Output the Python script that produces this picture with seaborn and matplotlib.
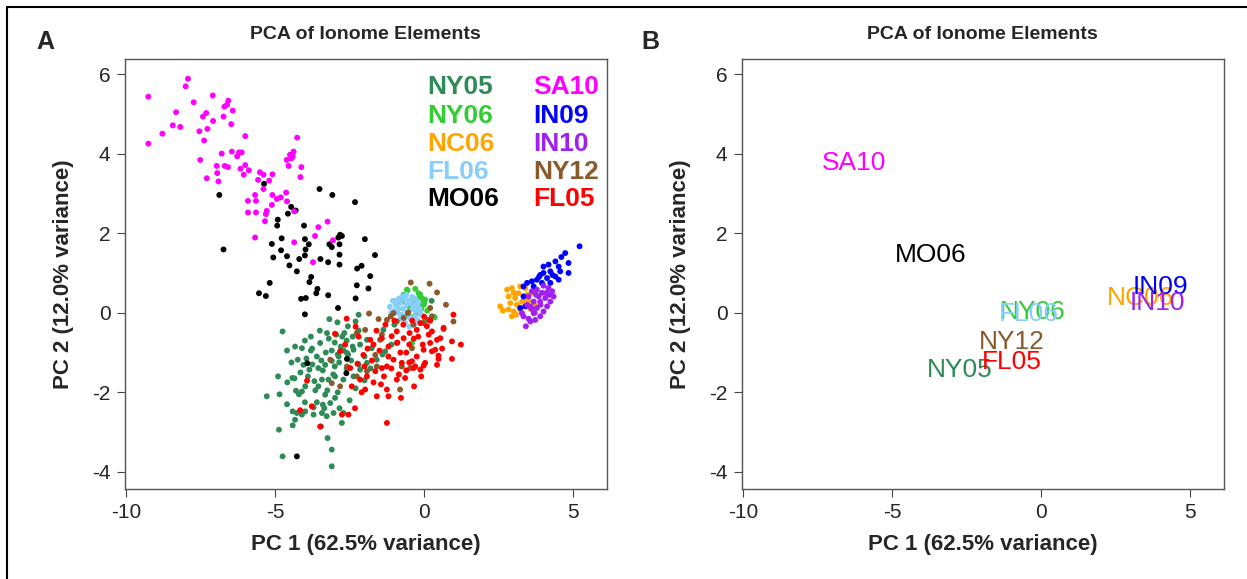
import numpy as np
import pandas as pd
import matplotlib
matplotlib.use("Agg")
import matplotlib.pyplot as plt
import seaborn as sns

# ---------------- data ----------------
groups = ["NY05", "NY06", "NC06", "FL06", "MO06", "SA10", "IN09", "IN10", "NY12", "FL05"]
colors = ["#2E8B57", "#32CD32", "#FFA500", "#87CEFA", "#000000",
          "#FF00FF", "#0000FF", "#A020F0", "#8B5A2B", "#FF0000"]

sa10_x = [-9.25, -9.25, -8.78, -8.43, -8.32, -8.18, -8.0, -7.92, -7.73, -7.54, -7.51, -7.42, -7.38, -7.31,
          -7.27, -7.29, -7.09, -7.08, -6.96, -6.94, -6.90, -6.79, -6.73, -6.70, -6.61, -6.57, -6.69, -6.58,
          -6.47, -6.42, -6.45, -6.27, -6.21, -6.12, -6.16, -6.0, -6.0, -6.05, -5.88, -5.51, -5.57, -5.39,
          -5.09, -5.20, -5.39, -5.67, -5.91, -5.64, -5.91, -5.64, -5.09, -5.11, -5.28, -5.31, -4.94, -4.81,
          -4.63, -4.60, -4.36, -4.26, -4.61, -4.50, -4.41, -4.55, -4.12, -4.15, -4.45, -4.38, -5.34, -5.67,
          -4.36, -3.24, -3.55, -3.66, -3.06, -3.73]
sa10_y = [5.43, 4.25, 4.50, 4.71, 5.04, 4.67, 5.69, 5.88, 5.29, 4.56, 3.84, 4.93, 4.33, 5.02,
          4.62, 3.38, 5.46, 4.82, 3.69, 3.51, 3.30, 4.0, 4.93, 5.18, 5.23, 5.33, 3.69, 3.66,
          4.74, 5.08, 4.05, 3.93, 4.03, 4.03, 3.62, 4.44, 3.71, 3.47, 3.58, 3.53, 3.34, 3.47,
          3.48, 3.32, 3.11, 2.96, 2.81, 2.81, 2.52, 2.52, 2.96, 2.71, 2.56, 2.48, 2.86, 2.90,
          3.02, 2.80, 2.55, 4.40, 3.84, 3.97, 3.93, 3.69, 3.66, 3.41, 3.88, 4.05, 2.30, 1.89,
          1.77, 2.29, 2.15, 1.93, 1.82, 1.27]

mo06_x = [-5.37, -6.87, -3.51, -3.08, -2.32, -4.46, -4.31, -4.57, -4.91, -4.93, -4.03, -6.73, -5.11, -4.78,
          -4.80, -5.06, -4.60, -4.0, -3.87, -3.98, -4.0, -4.19, -4.52, -4.27, -3.48, -3.22, -3.18, -3.10,
          -2.84, -2.82, -2.76, -2.88, -2.84, -2.84, -1.99, -1.65, -2.25, -2.10, -1.81, -2.26, -1.87, -2.30,
          -2.89, -3.79, -3.85, -3.58, -3.62, -3.22, -3.97, -4.13, -4.0, -5.18, -5.54, -5.31, -3.92, -2.59,
          -2.61, -4.27]
mo06_y = [3.24, 2.96, 3.11, 2.96, 2.78, 2.66, 2.57, 2.49, 2.34, 2.19, 2.19, 1.59, 1.73, 1.87,
          1.57, 1.39, 1.42, 1.85, 1.72, 1.59, 1.44, 1.35, 1.19, 1.04, 1.35, 1.27, 1.72, 1.65,
          1.72, 1.96, 1.93, 1.89, 1.46, 1.21, 1.85, 1.45, 1.11, 1.18, 0.92, 0.69, 0.61, 0.36,
          0.12, 0.90, 0.77, 0.60, 0.49, 0.44, 0.37, 0.35, -0.04, 0.75, 0.49, 0.42, -1.27, -1.16,
          -1.52, -3.61]

ny05_x = [-4.75, -3.18, -2.91, -2.20, -2.30, -2.56, -2.68, -2.95, -3.26, -3.49, -3.76, -4.10, -4.33, -4.24,
          -4.05, -3.85, -3.55, -3.32, -3.10, -2.87, -2.59, -2.37, -2.15, -1.92, -1.76, -1.37, -1.31, -1.59,
          -1.92, -2.15, -2.37, -2.71, -2.99, -3.21, -3.43, -3.68, -3.99, -4.30, -4.59, -4.42, -5.28, -4.10,
          -3.32, -2.99, -3.15, -3.40, -3.71, -3.99, -4.27, -4.41, -4.33, -4.41, -4.10, -3.71, -3.43, -3.27,
          -3.04, -2.84, -2.71, -2.76, -3.46, -3.24, -3.10, -3.10, -4.87, -4.75,
          -3.0, -2.8, -2.6, -2.4, -3.1, -2.9, -2.7, -2.45, -3.3, -3.6, -3.8, -4.0, -3.5, -2.2, -2.0,
          -1.8, -2.0, -3.0, -3.4, -3.9, -3.65, -4.45, -4.6, -4.9, -4.85, -4.0, -3.6, -2.5, -2.3, -1.1,
          -1.4, -1.0, 0.25,
          -3.8, -3.2, -2.75, -2.55, -3.45, -3.75, -4.15, -2.85, -3.05, -2.6, -3.55, -3.25, -4.2, -2.2,
          -2.4, -3.95, -4.35, -3.35, -2.9, -4.6]
ny05_y = [-0.47, -0.16, -0.24, -0.05, -0.22, -0.34, -0.51, -0.55, -0.51, -0.76, -0.90, -0.89, -0.85, -1.18,
          -1.31, -1.43, -1.39, -1.31, -1.21, -1.10, -1.01, -0.93, -0.80, -0.68, -0.89, -0.43, -0.97, -1.18,
          -1.26, -1.43, -1.60, -1.68, -1.60, -1.68, -1.68, -1.72, -1.85, -1.96, -1.75, -1.64, -2.10, -1.98,
          -2.06, -2.14, -2.27, -2.31, -2.38, -2.48, -2.52, -2.48, -2.69, -2.83, -2.56, -2.56, -2.52, -2.60,
          -2.52, -2.40, -2.52, -2.77, -2.86, -3.15, -3.44, -3.86, -2.94, -3.61,
          -0.75, -0.85, -0.7, -0.6, -0.95, -1.05, -0.95, -1.2, -1.0, -1.1, -0.6, -0.7, -0.45, -1.3, -1.1,
          -1.4, -1.7, -1.35, -1.45, -1.6, -1.95, -1.25, -0.95, -1.6, -2.05, -2.25, -2.25, -2.2, -1.9, -0.8,
          -1.05, -0.3, 0.3,
          -0.95, -0.65, -0.6, -1.05, -1.2, -1.3, -1.5, -1.25, -1.55, -1.4, -1.85, -1.95, -2.05, -0.45,
          -0.85, -1.15, -1.65, -2.4, -2.0, -2.3]

fl05_x = [-2.99, -2.82, -2.48, -2.24, -2.04, -1.81, -1.70, -1.42, -1.20, -1.09, -0.92, -0.69, -0.49, -0.25,
          -0.13, 0.09, 0.26, 0.43, 0.20, -0.02, -0.25, -0.41, -0.75, -1.03, -1.25, -1.42, -1.64, -1.92,
          -2.15, -2.43, -1.98, -1.59, -1.25, -1.20, -0.78, -0.92, -0.64, -0.34, -1.25, -2.32, -2.54, -2.76,
          -3.49, -3.77, -4.16, -3.93, 0.98, 0.93, 1.23, 0.93, 0.48, 0.26, 0.43, 0.03, -0.13, -0.36,
          0.65, 0.54, 0.37, 0.48, -0.02, -0.30,
          -1.3, -1.0, -0.7, -0.4, -1.6, -1.9, -2.2, -0.5, -0.2, -0.8, -1.1, -0.6, -2.3, -2.6, 0.0, 0.2,
          -1.45, -0.1,
          -1.5, -1.2, -0.9, -0.6, -0.35, -1.75, -2.0, -0.05, 0.15, -0.5, -1.35, -2.1, -1.7, 0.6,
          -0.85, -2.65]
fl05_y = [-0.53, -0.97, -1.39, -1.28, -1.06, -0.68, -0.80, -0.64, -0.85, -0.59, -0.47, -0.64, -0.51, -0.43,
          -0.26, -0.34, -0.47, -0.68, -0.76, -0.93, -1.10, -1.22, -1.26, -1.18, -1.35, -1.39, -1.47, -1.60,
          -1.68, -1.85, -1.93, -2.10, -1.93, -2.10, -2.14, -1.68, -1.64, -1.85, -2.77, -2.40, -2.56, -2.56,
          -2.86, -2.35, -2.45, -1.71, -0.05, -0.72, -0.80, -1.16, -1.16, -0.97, -1.31, -1.26, -1.43, -1.39,
          -0.38, -0.64, -0.93, -1.08, -1.33, -1.35,
          -0.3, -0.2, -0.3, -0.2, -0.45, -0.9, -0.6, -0.8, -0.6, -1.0, -1.4, -1.45, -0.35, -0.15, -0.1, -0.2,
          -1.8, -1.6,
          -0.95, -1.1, -0.75, -1.0, -0.65, -1.2, -1.35, -0.8, -0.55, -1.25, -1.6, -2.0, -1.75, -0.9,
          -1.55, -0.8]

ny12_x = [-0.45, 0.18, 0.43, 0.73, 0.20, 0.98, 0.65, -0.53, -1.85, -1.53, -1.98, -2.26, -1.25, -1.12,
          -1.03, -0.55, -0.36, -0.02, 0.14, 0.26, -0.69, -0.92, -1.42, -1.48, -1.64, -1.59, -1.92, -2.26,
          -2.59, -3.10, -2.82, -3.15, -0.81, -0.75, -0.92, -0.41, -0.47]
ny12_y = [0.76, 0.73, 0.51, 0.20, 0.12, -0.22, -0.41, 0.01, -0.02, -0.16, -0.43, -0.51, -0.18, -0.09,
          -0.01, -0.01, -0.30, -0.26, -0.18, -0.09, -0.13, -0.22, -0.55, -0.68, -1.06, -1.35, -1.47, -1.60,
          -1.35, -1.77, -1.85, -1.18, -1.93, -1.35, -0.76, -0.89, -1.39]

ny06_x = [-0.56, -0.30, -0.19, -0.08, -0.02, -0.13, 0.35, 0.03, -0.69, -0.75, -0.40, -0.58, -0.13, 0.03,
          -0.02, 0.34, -0.3, -0.2, -0.4, -0.1, -0.25, -0.5, 0.1, -0.35, 0.0, -0.15]
ny06_y = [0.56, 0.60, 0.49, 0.37, 0.28, 0.16, -0.12, -0.18, 0.45, 0.28, -0.75, 0.58, 0.45, 0.33,
          0.20, -0.11, 0.3, 0.2, 0.35, 0.1, 0.0, 0.15, 0.05, -0.1, 0.25, 0.4]

fl06_x = [-1.15, -1.05, -0.95, -0.85, -0.75, -0.6, -0.5, -0.4, -0.3, -0.2, -0.15, -0.1, -0.2, -0.35,
          -0.5, -0.65, -0.8, -0.9, -1.0, -0.7, -0.55, -0.4, -0.3, -0.6, -0.45, -0.75, -0.25, -0.85,
          -0.35, -0.5, -0.65, -0.45, -0.95, -0.8, -0.3, -0.6, -0.2, -1.1]
fl06_y = [0.15, 0.3, 0.2, 0.35, 0.4, 0.45, 0.3, 0.4, 0.35, 0.25, 0.1, -0.05, -0.2, -0.3,
          -0.35, -0.25, -0.15, 0.0, 0.05, 0.1, 0.0, 0.1, -0.1, 0.2, -0.15, -0.05, 0.15, 0.1,
          0.2, -0.1, 0.35, 0.25, 0.3, 0.25, 0.05, -0.1, 0.05, 0.0]

nc06_x = [2.55, 2.64, 2.83, 3.0, 2.78, 2.94, 3.22, 3.39, 3.45, 2.83, 3.05, 2.89, 3.11, 3.28,
          3.16, 3.0, 3.22, 2.94, 3.08, 3.5, 3.6, 3.7, 3.55, 3.4]
nc06_y = [0.16, 0.05, 0.08, 0.03, 0.58, 0.62, 0.66, 0.62, 0.45, 0.41, 0.37, 0.24, 0.20, 0.28,
          0.49, 0.5, 0.08, -0.09, -0.05, 0.3, 0.5, 0.2, 0.1, 0.35]

in09_x = [5.21, 4.73, 4.84, 4.40, 4.51, 4.56, 4.84, 4.17, 4.0, 4.23, 4.0, 3.89, 4.40, 4.51,
          4.12, 3.78, 3.61, 3.45, 3.33, 3.67, 3.95, 4.23, 3.33, 3.39, 3.22, 4.6, 4.3, 3.85]
in09_y = [1.67, 1.50, 1.25, 1.29, 1.16, 1.04, 1.0, 1.21, 1.16, 1.04, 1.0, 0.95, 0.91, 0.83,
          0.87, 0.83, 0.79, 0.75, 0.66, 0.66, 0.75, 0.75, 0.41, 0.16, 0.12, 1.4, 0.95, 0.9]

in10_x = [4.0, 4.17, 4.29, 4.34, 4.23, 4.12, 4.0, 3.89, 3.72, 3.56, 3.41, 3.33, 3.28, 3.50,
          3.61, 3.78, 3.84, 3.89, 3.67, 3.56, 3.78, 3.67, 4.06, 3.95, 3.75, 3.6, 3.45, 4.1,
          3.9, 3.7, 4.2, 3.5]
in10_y = [0.68, 0.62, 0.54, 0.41, 0.28, 0.16, 0.03, -0.09, -0.18, -0.22, -0.34, -0.09, -0.01, 0.41,
          0.54, 0.58, 0.41, 0.28, 0.28, 0.16, 0.12, -0.01, 0.37, 0.5, 0.45, 0.1, 0.2, 0.5,
          0.2, 0.0, 0.45, -0.15]

# group centroids as labelled in panel B
cent_x = [-2.72, -0.30, 3.32, -0.43, -3.72, -6.27, 4.0, 3.9, -1.0, -0.97]
cent_y = [-1.43, 0.02, 0.38, -0.02, 1.46, 3.77, 0.65, 0.25, -0.73, -1.23]

xticks = [-10, -5, 0, 5]
yticks = [-4, -2, 0, 2, 4, 6]

# ---------------- build table ----------------
series = {
    "NY05": (ny05_x, ny05_y), "NY06": (ny06_x, ny06_y), "FL06": (fl06_x, fl06_y),
    "MO06": (mo06_x, mo06_y), "NY12": (ny12_x, ny12_y), "FL05": (fl05_x, fl05_y),
    "SA10": (sa10_x, sa10_y), "NC06": (nc06_x, nc06_y), "IN09": (in09_x, in09_y),
    "IN10": (in10_x, in10_y),
}
rows = []
for g, (xs, ys) in series.items():
    for a, b in zip(xs, ys):
        rows.append((g, a, b))
df = pd.DataFrame(rows, columns=["group", "PC1", "PC2"])
palette = dict(zip(groups, colors))

# ---------------- figure ----------------
sns.set_theme(style="white")
plt.rcParams["font.family"] = ["Liberation Sans", "DejaVu Sans"]

fig = plt.figure(figsize=(12.47, 5.79), dpi=100)
W, H = 1247, 579
top_px, bot_px = 58.5, 489
axA = fig.add_axes([124.5 / W, 1 - bot_px / H, (607 - 124.5) / W, (bot_px - top_px) / H])
axB = fig.add_axes([741.5 / W, 1 - bot_px / H, (1224 - 741.5) / W, (bot_px - top_px) / H])

sns.scatterplot(data=df, x="PC1", y="PC2", hue="group", palette=palette,
                hue_order=list(series.keys()), s=18, linewidth=0, legend=False, ax=axA)

for ax in (axA, axB):
    ax.set_xlim(-10.05, 6.13)
    ax.set_ylim(-4.43, 6.39)
    ax.set_xticks(xticks)
    ax.set_yticks(yticks)
    ax.set_xticklabels([str(t) for t in xticks], fontsize=15)
    ax.set_yticklabels([str(t) for t in yticks], fontsize=15)
    ax.tick_params(axis="both", direction="out", length=6, width=0.8, color="#444444",
                   bottom=True, left=True, pad=4)
    for sp in ax.spines.values():
        sp.set_color("#555555")
        sp.set_linewidth(1.0)
    ax.set_xlabel("PC 1 (62.5% variance)", fontsize=16, fontweight="bold", labelpad=9)
    ax.set_ylabel("PC 2 (12.0% variance)", fontsize=16, fontweight="bold", labelpad=13)
    ax.set_title("PCA of Ionome Elements", fontsize=14, fontweight="bold", pad=14)

# legend-like labels in panel A
col_x = [427, 533]
row_y = [87, 116, 144, 172, 199]
for i, g in enumerate(groups):
    c, r = divmod(i, 5)
    fig.text(col_x[c] / W, 1 - row_y[r] / H, g, color=palette[g], fontsize=19,
             fontweight="bold", ha="left", va="center")

# centroid labels in panel B
for g, cx, cy in zip(groups, cent_x, cent_y):
    axB.text(cx, cy, g, color=palette[g], fontsize=19, ha="center", va="center")

fig.text(45 / W, 1 - 42 / H, "A", fontsize=18, fontweight="bold", ha="center", va="center")
fig.text(650 / W, 1 - 42 / H, "B", fontsize=18, fontweight="bold", ha="center", va="center")

# outer frame (top and left edges visible)
fig.add_artist(plt.Line2D([6.5 / W, 6.5 / W], [0, 1 - 6.5 / H], color="black", lw=1.5,
                          transform=fig.transFigure))
fig.add_artist(plt.Line2D([6.5 / W, 1], [1 - 6.5 / H, 1 - 6.5 / H], color="black", lw=1.5,
                          transform=fig.transFigure))

fig.savefig("out.png", dpi=100, facecolor="white")
